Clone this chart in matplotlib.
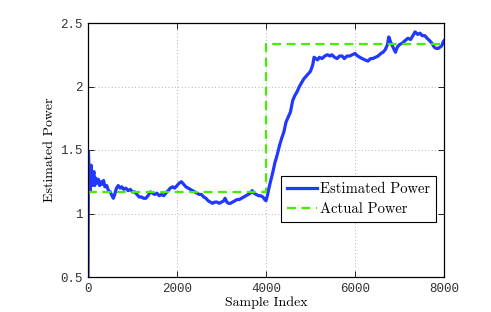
import matplotlib
matplotlib.use('Agg')
import matplotlib.pyplot as plt

# Estimated power trace
sample_idx = [0, 10, 30, 50, 70, 90, 110, 135, 150, 170, 200, 230, 260, 290,
              320, 350, 380, 420, 460, 500, 540, 570, 600, 640, 680, 720,
              760, 800, 850, 900, 950, 1000, 1050, 1100, 1150, 1200, 1250,
              1300, 1350, 1400, 1450, 1500, 1550, 1600, 1650, 1700, 1750,
              1800, 1850, 1900, 1950, 2000, 2050, 2100, 2150, 2200, 2250,
              2300, 2350, 2400, 2450, 2500, 2550, 2600, 2650, 2700, 2750,
              2800, 2850, 2900, 2950, 3000, 3050, 3080, 3120, 3160, 3200,
              3250, 3300, 3350, 3400, 3450, 3500, 3550, 3600, 3650, 3690,
              3730, 3780, 3830, 3880, 3930, 3970, 4000, 4030, 4060, 4100,
              4150, 4200, 4250, 4300, 4350, 4400, 4450, 4500, 4550, 4600,
              4650, 4700, 4750, 4800, 4850, 4900, 4950, 5000, 5050, 5080,
              5120, 5160, 5200, 5260, 5320, 5380, 5440, 5480, 5540, 5600,
              5650, 5710, 5760, 5820, 5880, 5940, 6000, 6060, 6110, 6160,
              6220, 6290, 6350, 6400, 6460, 6520, 6580, 6630, 6680, 6730,
              6760, 6800, 6840, 6880, 6910, 6950, 7000, 7060, 7120, 7190,
              7250, 7300, 7350, 7410, 7460, 7510, 7570, 7620, 7680, 7730,
              7780, 7820, 7870, 7910, 7950, 7980, 8000]
est_power = [0.50, 1.49, 1.25, 1.18, 1.38, 1.22, 1.30, 1.33, 1.22, 1.28,
             1.24, 1.27, 1.22, 1.25, 1.23, 1.26, 1.21, 1.22, 1.18, 1.17,
             1.14, 1.12, 1.15, 1.20, 1.22, 1.20, 1.21, 1.19, 1.20, 1.18,
             1.19, 1.17, 1.17, 1.15, 1.13, 1.13, 1.12, 1.12, 1.14, 1.17,
             1.16, 1.15, 1.16, 1.14, 1.15, 1.14, 1.16, 1.18, 1.20, 1.21,
             1.20, 1.22, 1.24, 1.25, 1.23, 1.21, 1.20, 1.19, 1.18, 1.17,
             1.16, 1.15, 1.15, 1.13, 1.12, 1.10, 1.09, 1.08, 1.09, 1.09,
             1.08, 1.09, 1.10, 1.12, 1.09, 1.08, 1.08, 1.09, 1.10, 1.11,
             1.11, 1.12, 1.13, 1.14, 1.15, 1.16, 1.18, 1.16, 1.15, 1.14,
             1.14, 1.13, 1.11, 1.10, 1.14, 1.19, 1.25, 1.32, 1.40, 1.46,
             1.53, 1.59, 1.64, 1.72, 1.76, 1.80, 1.89, 1.93, 1.96, 2.00,
             2.03, 2.06, 2.08, 2.10, 2.12, 2.17, 2.23, 2.22, 2.21, 2.23,
             2.22, 2.24, 2.25, 2.24, 2.25, 2.23, 2.22, 2.24, 2.24, 2.22,
             2.24, 2.24, 2.25, 2.26, 2.24, 2.23, 2.22, 2.21, 2.20, 2.22,
             2.22, 2.23, 2.24, 2.26, 2.27, 2.29, 2.33, 2.39, 2.35, 2.32,
             2.29, 2.27, 2.31, 2.33, 2.34, 2.36, 2.38, 2.37, 2.40, 2.43,
             2.41, 2.42, 2.40, 2.40, 2.38, 2.36, 2.34, 2.31, 2.30, 2.30,
             2.31, 2.32, 2.35, 2.36]

# Actual power (step change at sample 4000)
actual_idx = [0, 4000, 4000, 8000]
actual_power = [1.17, 1.17, 2.335, 2.335]

serif = 'cmr10'
mono = 'Liberation Mono'

fig = plt.figure(figsize=(4.91, 3.12), dpi=100, facecolor='white')
ax = fig.add_axes([88 / 491, 35 / 312, 356 / 491, 254 / 312])

ax.plot(sample_idx, est_power, color='#2038ff', linewidth=2.3,
        label='Estimated Power')
ax.plot(actual_idx, actual_power, color='#44ee00', linewidth=1.6,
        linestyle=(0, (4, 2.5)), label='Actual Power')

ax.set_xlim(0, 8000)
ax.set_ylim(0.5, 2.5)
ax.set_xticks([0, 2000, 4000, 6000, 8000])
ax.set_yticks([0.5, 1, 1.5, 2, 2.5])
ax.set_yticklabels(['0.5', '1', '1.5', '2', '2.5'])
ax.grid(True, linestyle=(0, (1, 3)), color='#999999', linewidth=0.6)

ax.tick_params(direction='in', top=True, right=True, length=4, width=0.6,
               labelsize=9, pad=4)
for lbl in ax.get_xticklabels() + ax.get_yticklabels():
    lbl.set_family(mono)
    lbl.set_color('#333333')
for sp in ax.spines.values():
    sp.set_linewidth(0.9)

ax.set_xlabel('Sample Index', family=serif, fontsize=10, labelpad=1)
ax.set_ylabel('Estimated Power', family=serif, fontsize=10, labelpad=3)

leg = ax.legend(loc='lower right', bbox_to_anchor=(0.978, 0.217),
                borderaxespad=0, prop={'family': serif, 'size': 10.5},
                fancybox=False, edgecolor='black', framealpha=1,
                handlelength=2.1, handletextpad=0.2, borderpad=0.4,
                labelspacing=0.45)
leg.get_frame().set_linewidth(0.8)

fig.savefig('out.png', dpi=100, facecolor='white')
